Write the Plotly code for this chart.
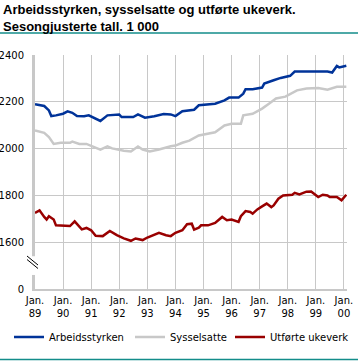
import plotly.graph_objects as go

# ---- data ----
labour_dates = ["1989-01","1989-05","1989-07","1989-08","1989-10","1990-01","1990-03","1990-05",
                "1990-07","1990-10","1990-12","1991-03","1991-05","1991-08","1992-01","1992-02",
                "1992-07","1992-09","1992-12","1993-04","1993-08","1993-11","1994-01","1994-04",
                "1994-07","1994-09","1994-11","1995-06","1995-10","1995-12","1996-04","1996-06",
                "1996-07","1996-10","1997-02","1997-03","1997-07","1997-10","1998-02","1998-04",
                "1998-09","1999-03","1999-06","1999-08","1999-10","1999-11","2000-02"]
labour_force = [2190,2182,2163,2139,2142,2149,2159,2153,
                2139,2138,2142,2128,2118,2142,2146,2135,
                2135,2146,2132,2138,2148,2146,2139,2160,
                2163,2166,2185,2192,2206,2218,2218,2235,
                2254,2254,2261,2278,2292,2302,2311,2329,
                2329,2331,2329,2325,2353,2347,2354]

employed_dates = ["1989-01","1989-05","1989-07","1989-09","1989-12","1990-04","1990-05","1990-08",
                  "1990-11","1991-02","1991-05","1991-08","1991-10","1992-03","1992-06","1992-09",
                  "1992-11","1993-02","1993-06","1993-11","1994-01","1994-04","1994-07","1994-11",
                  "1995-06","1995-10","1996-01","1996-05","1996-06","1996-10","1997-02","1997-05",
                  "1997-08","1997-12","1998-03","1998-05","1998-09","1999-02","1999-06","1999-10",
                  "2000-02"]
employed = [2078,2067,2049,2020,2025,2025,2030,2020,
            2020,2009,1996,2010,2001,1991,1988,2009,
            1996,1988,1996,2010,2013,2025,2034,2056,
            2070,2099,2106,2106,2142,2149,2171,2192,
            2214,2222,2238,2249,2257,2259,2252,2264,
            2264]

weeks_dates = ["1989-01","1989-03","1989-05","1989-06","1989-07","1989-09","1989-10","1990-01",
               "1990-04","1990-06","1990-09","1990-11","1991-01","1991-03","1991-06","1991-09",
               "1991-12","1992-03","1992-06","1992-08","1992-11","1993-01","1993-06","1993-09",
               "1993-11","1994-01","1994-04","1994-06","1994-08","1994-09","1994-11","1994-12",
               "1995-03","1995-06","1995-09","1995-11","1996-01","1996-04","1996-05","1996-07",
               "1996-09","1996-10","1996-12","1997-02","1997-04","1997-06","1997-07","1997-09",
               "1997-11","1998-03","1998-04","1998-06","1998-09","1998-11","1999-02","1999-04",
               "1999-06","1999-07","1999-10","1999-12","2000-02"]
man_weeks = [1725,1736,1708,1697,1711,1697,1672,1672,
             1669,1689,1655,1661,1651,1627,1626,1648,
             1630,1616,1606,1616,1609,1620,1640,1630,
             1626,1640,1651,1677,1679,1654,1662,1672,
             1672,1682,1708,1694,1697,1687,1711,1733,
             1729,1722,1740,1753,1765,1750,1757,1786,
             1800,1803,1811,1804,1816,1817,1793,1803,
             1800,1793,1793,1779,1803]

series_names = ["Arbeidsstyrken", "Sysselsatte", "Utførte ukeverk"]
series_colors = ["#003399", "#c8c8c8", "#990000"]

year_ticks = ["%d-01-01" % y for y in range(1989, 2001)]
year_labels = ["Jan.<br>%02d" % (y % 100) for y in range(1989, 2001)]
y_ticks = [1400, 1600, 1800, 2000, 2200, 2400]
y_labels = ["0", "1600", "1800", "2000", "2200", "2400"]

title_text = "Arbeidsstyrken, sysselsatte og utførte ukeverk.<br>Sesongjusterte tall. 1 000"

# ---- figure ----
fig = go.Figure()
legend_ids = ["legend", "legend2", "legend3"]
for xs, ys, name, col, lg in zip([labour_dates, employed_dates, weeks_dates],
                                 [labour_force, employed, man_weeks],
                                 series_names, series_colors, legend_ids):
    fig.add_trace(go.Scatter(x=xs, y=ys, mode="lines", name=name, legend=lg,
                             line=dict(color=col, width=2.5)))

GRID = "#c8c8c8"
TEAL = "#138d8a"

legend_common = dict(orientation="h", xref="container", xanchor="left",
                     y=1 - 337/361, yref="container", yanchor="middle",
                     font=dict(size=10), bgcolor="rgba(0,0,0,0)")

fig.update_layout(
    width=358, height=361,
    margin=dict(l=35, r=11, t=55, b=72, autoexpand=False),
    paper_bgcolor="white", plot_bgcolor="white",
    font=dict(family="DejaVu Sans", size=10, color="black"),
    showlegend=True,
    legend=dict(x=9/358, **legend_common),
    legend2=dict(x=130/358, **legend_common),
    legend3=dict(x=230/358, **legend_common),
    xaxis=dict(type="date", range=["1989-01-01", "2000-02-10"],
               tickvals=year_ticks, ticktext=year_labels, tickangle=0,
               showgrid=True, gridcolor=GRID, gridwidth=1,
               showline=True, linecolor=GRID, linewidth=2,
               ticks="", ticklabelstandoff=1, zeroline=False, tickfont=dict(size=10)),
    yaxis=dict(range=[1400, 2400], tickvals=y_ticks, ticktext=y_labels,
               showgrid=True, gridcolor=GRID, gridwidth=1,
               showline=True, linecolor=GRID, linewidth=3,
               ticks="", ticklabelstandoff=6, zeroline=False, tickfont=dict(size=10)),
)

def px2paper_x(px):
    return (px - 35) / 312.0

def px2paper_y(py):
    return (289 - py) / 234.0

fig.add_annotation(text=title_text, xref="paper", yref="paper",
                   x=px2paper_x(1), y=px2paper_y(0), xanchor="left", yanchor="top",
                   align="left", showarrow=False,
                   font=dict(family="Liberation Sans", size=13, color="black", weight="bold"))

shapes = [
    # gap in the y axis (axis break)
    dict(type="rect", xref="paper", yref="y", x0=px2paper_x(30), x1=px2paper_x(40),
         y0=1460, y1=1540, fillcolor="white", line=dict(width=0), layer="above"),
    dict(type="line", xref="paper", yref="paper", x0=px2paper_x(27), y0=px2paper_y(256),
         x1=px2paper_x(38), y1=px2paper_y(265), line=dict(color="black", width=1), layer="above"),
    dict(type="line", xref="paper", yref="paper", x0=px2paper_x(27), y0=px2paper_y(259.5),
         x1=px2paper_x(38), y1=px2paper_y(268.5), line=dict(color="black", width=1), layer="above"),
    # teal rules
    dict(type="line", xref="paper", yref="paper", x0=px2paper_x(0), x1=px2paper_x(358),
         y0=px2paper_y(33), y1=px2paper_y(33), line=dict(color=TEAL, width=1.5), layer="above"),
    dict(type="line", xref="paper", yref="paper", x0=px2paper_x(0), x1=px2paper_x(358),
         y0=px2paper_y(359.5), y1=px2paper_y(359.5), line=dict(color=TEAL, width=1.5), layer="above"),
]
fig.update_layout(shapes=shapes)

fig.write_html("out.html", config={"displayModeBar": False},
               post_script="document.body.style.margin='0';document.body.style.overflow='hidden';")
